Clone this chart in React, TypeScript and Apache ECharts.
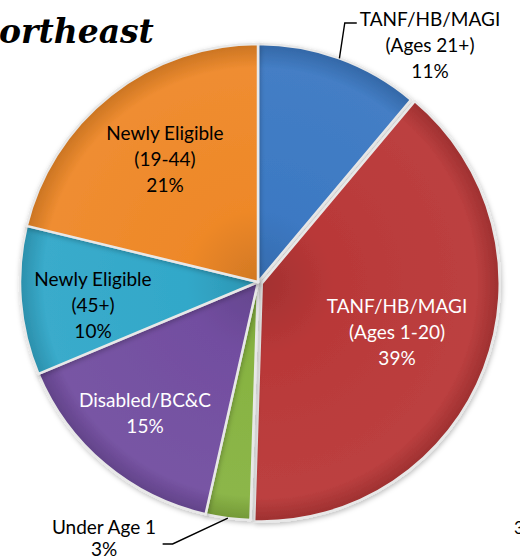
import React, { useEffect, useRef } from "react";
import * as echarts from "echarts";

const categories = [
  "TANF/HB/MAGI\n(Ages 21+)",
  "TANF/HB/MAGI\n(Ages 1-20)",
  "Under Age 1",
  "Disabled/BC&C",
  "Newly Eligible\n(45+)",
  "Newly Eligible\n(19-44)",
];
const values = [11, 39, 3, 15, 10, 21];
const sliceColors = ["#3c79c3", "#b93838", "#87b341", "#724ea0", "#32a8c9", "#ee8828"];
const labelColors = ["#000000", "#ffffff", "#000000", "#ffffff", "#000000", "#000000"];
const titleText = "ortheast";
const pageNumber = "3";

function shade(hex: string, f: number) {
  const n = parseInt(hex.slice(1), 16);
  const ch = [(n >> 16) & 255, (n >> 8) & 255, n & 255].map((c) =>
    Math.max(0, Math.min(255, Math.round(f >= 0 ? c + (255 - c) * f : c * (1 + f))))
  );
  return "rgb(" + ch.join(",") + ")";
}

export default function App() {
  const ref = useRef<HTMLDivElement>(null);
  useEffect(() => {
    if (!ref.current) return;
    const chart = echarts.init(ref.current, null, { renderer: "svg" });
    const cx = 258;
    const cy = 282;
    const R = 238;
    const outside = [0, 2];
    const labelCenters: Record<number, number[]> = {
      0: [430, 44],
      1: [397, 331],
      2: [104, 537],
      3: [145, 412],
      4: [93, 304],
      5: [165, 158],
    };

    const formatter = (p: any) => {
      const lines = String(p.name).split("\n");
      lines.push(p.value + "%");
      return lines.map((l) => "{c|" + l + "}").join("\n");
    };

    const pieBase = {
      type: "pie",
      center: [cx, cy],
      radius: R,
      startAngle: 90,
      clockwise: true,
      avoidLabelOverlap: false,
      emphasis: { disabled: true },
    };

    const option: any = {
      animation: false,
      backgroundColor: "#ffffff",
      graphic: [
        {
          type: "text",
          x: -1,
          y: 15,
          style: {
            text: titleText,
            font: "italic bold 33px 'DejaVu Serif'",
            fill: "#000",
          },
        },
        {
          type: "text",
          x: 514,
          y: 519,
          style: { text: pageNumber, font: "17px Lato", fill: "#000" },
        },
      ],
      series: [
        {
          ...pieBase,
          selectedMode: "single",
          selectedOffset: 4,
          itemStyle: {
            borderColor: "#e8e8e8",
            borderWidth: 2.5,
            shadowBlur: 5,
            shadowOffsetX: 1,
            shadowOffsetY: 2,
            shadowColor: "rgba(0,0,0,0.25)",
          },
          label: { show: false },
          labelLine: { show: false },
          data: values.map((v, i) => {
            const base = sliceColors[i];
            return {
              name: categories[i],
              value: v,
              selected: i === 1,
              itemStyle: {
                color: {
                  type: "radial",
                  x: cx,
                  y: cy,
                  r: R,
                  global: true,
                  colorStops: [
                    { offset: 0, color: shade(base, -0.12) },
                    { offset: 0.3, color: base },
                    { offset: 0.9, color: shade(base, 0.04) },
                    { offset: 1, color: shade(base, -0.15) },
                  ],
                },
              },
            };
          }),
        },
        {
          ...pieBase,
          silent: true,
          z: 3,
          itemStyle: { color: "rgba(0,0,0,0)", borderWidth: 0 },
          label: {
            position: "inside",
            fontFamily: "Lato",
            fontSize: 19,
            lineHeight: 26,
            textBorderWidth: 0,
            formatter,
            rich: { c: { align: "center", fontFamily: "Lato", fontSize: 19, lineHeight: 26 } },
          },
          labelLine: { show: false },
          labelLayout: (params: any) => {
            const i = params.dataIndex;
            const r = params.labelRect;
            const [x, y] = labelCenters[i];
            if (i === 0) {
              const left = x - r.width / 2;
              const top = y - r.height / 2;
              const p0 = params.labelLinePoints ? params.labelLinePoints[0] : [339, 57];
              return {
                x,
                y,
                align: "center",
                verticalAlign: "middle",
                labelLinePoints: [p0, [left - 15, top + 18], [left - 3, top + 18]],
              };
            }
            if (i === 2) {
              const right = x + r.width / 2;
              const p0 = params.labelLinePoints ? params.labelLinePoints[0] : [228, 516];
              return {
                x,
                y,
                align: "center",
                verticalAlign: "middle",
                labelLinePoints: [p0, [right + 16, y + 7], [right + 6, y + 7]],
              };
            }
            return { x, y, align: "center", verticalAlign: "middle" };
          },
          data: values.map((v, i) => {
            const out = outside.includes(i);
            return {
              name: categories[i],
              value: v,
              label: {
                position: out ? "outside" : "inside",
                color: labelColors[i],
                lineHeight: i === 2 ? 22 : 26,
                rich: { c: { align: "center", lineHeight: i === 2 ? 22 : 26, color: labelColors[i] } },
              },
              labelLine: {
                show: out,
                length: 30,
                length2: 12,
                lineStyle: { color: "#000", width: 1.4 },
              },
            };
          }),
        },
      ],
    };
    chart.setOption(option);
    return () => chart.dispose();
  }, []);
  return <div ref={ref} style={{ width: 520, height: 559, position: "absolute", left: 0, top: 0 }} />;
}
